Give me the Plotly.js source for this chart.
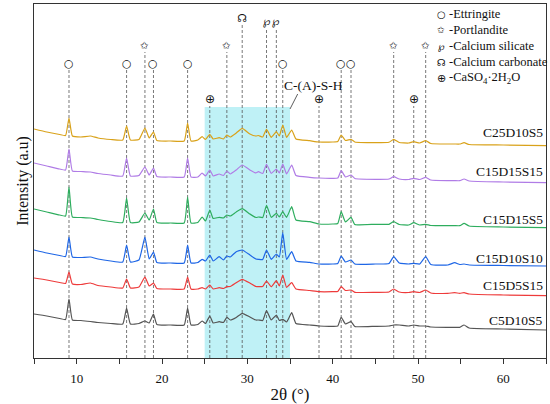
<!DOCTYPE html>
<html>
<head>
<meta charset="utf-8">
<script src="https://cdn.plot.ly/plotly-3.0.1.min.js"></script>
<style>html,body{margin:0;padding:0;background:#fff;}#chart{width:550px;height:404px;}</style>
</head>
<body>
<div id="chart"></div>
<script>
// 2θ positions (degrees) shared by all patterns
const twoTheta = [5.0,6.5,8.0,8.7,9.1,9.5,10.5,11.6,12.5,14.0,15.4,15.85,16.3,17.3,18.0,18.5,19.0,19.4,21.0,22.6,23.0,23.4,24.2,24.7,25.1,25.6,26.0,26.7,27.2,27.6,28.0,28.7,29.4,30.3,31.0,31.3,31.8,32.25,32.8,33.4,33.75,34.15,34.6,35.2,35.7,37.3,38.4,40.0,40.6,41.0,41.5,42.15,42.6,45.0,46.6,47.15,47.8,48.9,49.5,50.2,50.9,51.5,53.5,54.3,54.9,55.4,56.0,60.0,65.0];

// Stacked intensities (a.u.)
const C25D10S5 = [229,226,223.5,222.5,240,222,221,222,220,218.5,218,232,218,218.5,230,220,226,217.5,217,217,235,217,218,221.3,218.5,223.7,219,220.3,219,223,221,225,229.7,224,222,222.5,221,228.7,220.7,226.3,222,233,220.7,228,219,217.3,216,216,216.5,223,217.5,218.7,216,215.3,215.7,218.7,215.5,215,216.3,215,217.3,214.5,214,214,214,215.3,213.5,213,212.3];
const C15D15S15 = [195,192,189,188,209,187,186.5,186,184.5,183,182,200,182,182.5,191,183,190,181.5,181,181,200,181,181,185,182,188,182,184,182.5,187,184,188,193,188,185,186.3,184.5,193.7,184.7,189,185,194,184,193,182.5,180.7,180,179.7,180,187.3,181,183,179.5,178.7,179,181.3,179,178.5,179.7,178.5,180.7,178,177.3,177.3,177.3,179,177,176,175.3];
const C15D15S5 = [149,146,143,142,171,141,140.5,140,138.5,136.5,135.5,160,135.5,136,145,138,149,135.5,135,135,161,135,135.5,141,137,148,139.5,140.7,140,143,142,146,149.3,144,140.5,141,140.5,152.7,140.7,144.7,141,146.3,140.7,151.3,138,136.3,134,134,134.5,146.3,136,140.7,133.5,133.7,133.7,136.3,133.5,133,135.3,133,133.7,132.5,132.3,132.3,132.3,134.7,132,131,130.3];
const C15D10S10 = [108,105,102.5,101.5,121,101,100.5,101,99,97,96,113,96,98,121,99,106,95.5,95,95,113,95,95.5,98.7,97,103,97,101.3,98,102,101,106.3,108,103,99,98.7,98.5,108,98.7,104,101,125.3,98.7,106.3,97,95.7,94,94,94.5,102,96,98,94,94,94.5,101.3,95,94,94.7,94,101.3,93.5,93,95.3,93.5,94,93,92.5,92];
const C15D5S15 = [80,78,75.5,74.5,86,74,73.5,75,72.5,71,70,79,70,71,81,72,75,69.5,69,69,81,69,69,70.3,69,73,69,70.3,69.5,71.3,71.5,75.3,78.7,75,71.5,71.3,71.5,77,71.3,77.3,72,83,70.7,75.3,69,67.5,66.3,66.3,66.5,71.3,67.5,68,65.7,65.7,66,69,66,65.5,66.3,65.5,68,65,64.7,65.3,64.7,65.3,64,63,62.3];
const C5D10S5 = [44,42,39.5,38.5,59,38,37.5,36.5,35.5,34.5,34,50,34,34.5,37,35,44,33.5,33,33,50,33,33.5,37,34.5,42,35,36.3,35.5,40.7,38,40.5,44.7,41,38,38,37.5,47.3,38,43,37.5,38.7,36,45.3,34.5,33,32,31.7,32,40.7,34,36.3,31.5,31.7,32,33,33,32,33,32,32,31,30.7,30.7,30.7,33,30,29,28];

const sampleNames = ['C25D10S5','C15D15S15','C15D15S5','C15D10S10','C15D5S15','C5D10S5'];
const sampleSeries = [C25D10S5,C15D15S15,C15D15S5,C15D10S10,C15D5S15,C5D10S5];
const sampleLabelY = [226,187,139,100,73,38];

// Phase peak positions (2θ)
const ettringitePeaks = [9.1,15.85,19.0,23.0,34.15,41.0,42.15];
const portlanditePeaks = [18.0,27.6,47.15,50.9];
const silicatePeaks = [32.25,33.4];
const carbonatePeaks = [29.4];
const gypsumPeaks = [25.6,38.4,49.5];

const phaseNames = ['-Ettringite','-Portlandite','-Calcium silicate','-Calcium carbonate','-CaSO<sub>4</sub>·2H<sub>2</sub>O'];

const colors = ['#D9A21A','#B07CE6','#2EAD5E','#1E66E6','#EE3B3B','#555555'];
const serif = 'Liberation Serif';
const symFont = 'DejaVu Sans';

const traces = sampleSeries.map((ys,i)=>({
  x: twoTheta, y: ys, type:'scatter', mode:'lines',
  line:{color:colors[i], width:1.2, shape:'spline', smoothing:0.4},
  name: sampleNames[i], showlegend:false, hoverinfo:'skip'
}));

const phases = [
  {peaks:ettringitePeaks, sym:'○', y:295, size:11},
  {peaks:portlanditePeaks, sym:'✩', y:313, size:10},
  {peaks:silicatePeaks, sym:'℘', y:337, size:11},
  {peaks:carbonatePeaks, sym:'☊', y:340, size:11},
  {peaks:gypsumPeaks, sym:'⊕', y:259, size:12}
];

const shapes = [{
  type:'rect', xref:'x', yref:'y', x0:25, x1:35, y0:0, y1:251,
  fillcolor:'#BFF1F6', line:{width:0}, layer:'below'
}];
const annotations = [];

phases.forEach(p=>{
  p.peaks.forEach(x=>{
    shapes.push({type:'line', xref:'x', yref:'y', x0:x, x1:x, y0:0, y1:p.y-7,
      line:{color:'#555', width:0.8, dash:'3px,2px'}, layer:'below'});
    annotations.push({x:x, y:p.y, xref:'x', yref:'y', text:p.sym, showarrow:false,
      font:{family:symFont, size:p.size, color:'#111'}});
  });
});

// Phase key (top right)
const keyY = [344,328,312,296,280];
phases.forEach((p,i)=>{
  annotations.push({x:52.75, y:keyY[i], xref:'x', yref:'y', xanchor:'center', text:p.sym,
    showarrow:false, font:{family:symFont, size:p.size-1, color:'#111'}});
  annotations.push({x:53.45, y:keyY[i], xref:'x', yref:'y', xanchor:'left', text:phaseNames[i],
    showarrow:false, font:{family:serif, size:12.5, color:'#111'}});
});

// Sample labels
sampleNames.forEach((n,i)=>{
  annotations.push({x:1, xref:'paper', xshift:-1, y:sampleLabelY[i], yref:'y', xanchor:'right', text:n,
    showarrow:false, font:{family:serif, size:13.5, color:'#111'}});
});

// C-(A)-S-H label with leader
annotations.push({x:37.8, y:273, xref:'x', yref:'y', text:'C-(A)-S-H', showarrow:false,
  font:{family:serif, size:13.5, color:'#111'}});
shapes.push({type:'line', xref:'x', yref:'y', x0:35.0, y0:249, x1:35.9, y1:264, line:{color:'#333', width:0.8}});

const layout = {
  width:550, height:404,
  margin:{l:34, r:4, t:4, b:46},
  paper_bgcolor:'#fff', plot_bgcolor:'#fff',
  font:{family:serif, color:'#111'},
  xaxis:{range:[5,65], dtick:10, tick0:0, ticks:'outside', ticklen:5, tickcolor:'#333',
    minor:{dtick:5, ticks:'outside', ticklen:5, tickcolor:'#333'},
    showline:true, mirror:true, linecolor:'#333', linewidth:1.2, showgrid:false, zeroline:false,
    ticklabelstandoff:3,
    tickfont:{family:serif, size:13, color:'#111'},
    title:{text:'2θ (°)', font:{family:serif, size:17, color:'#111'}, standoff:4}},
  yaxis:{range:[0,354], showticklabels:false, ticks:'', showline:true, mirror:true,
    linecolor:'#333', linewidth:1.2, showgrid:false, zeroline:false,
    title:{text:'Intensity (a.u)', font:{family:serif, size:16, color:'#111'}, standoff:0}},
  shapes:shapes, annotations:annotations, showlegend:false
};

Plotly.newPlot('chart', traces, layout, {staticPlot:true});
</script>
</body>
</html>
